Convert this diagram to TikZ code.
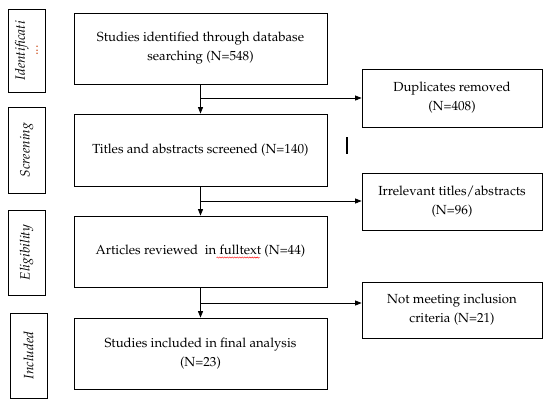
\documentclass[tikz,border=0pt]{standalone}
\usepackage[T1]{fontenc}
\usepackage{mathpazo}
\usetikzlibrary{arrows.meta,decorations.pathmorphing}
\begin{document}
\begin{tikzpicture}[x=1bp,y=-1bp,
  box/.style={draw,line width=0.8pt,inner sep=0pt,align=center,font=\fontsize{13.2}{19}\selectfont},
  mainbox/.style={box,minimum width=253bp,minimum height=71bp},
  sidebox/.style={box,minimum width=180bp},
  stagebox/.style={box,rotate=90,minimum height=37bp,font=\itshape\fontsize{13.6}{13}\selectfont},
  arr/.style={line width=0.8pt,-{Triangle[length=6.5pt,width=5pt]}},
  ln/.style={line width=0.8pt}
]
\useasboundingbox (0,0) rectangle (551,403);
% stage labels
\node[stagebox,minimum width=83bp] (s1) at (26.5,50.5) {Identificati\\{\color[rgb]{0.8,0.3,0.1}\upshape...}};
\node[stagebox,minimum width=86bp] (s2) at (26.5,150) {Screening};
\node[stagebox,minimum width=85bp] (s3) at (26.5,252.5) {Eligibility};
\node[stagebox,minimum width=85bp] (s4) at (28.5,355.5) {Included};
% main boxes
\node[mainbox] (b1) at (200.5,48.5) {Studies identified through database\\searching (N=548)};
\node[mainbox,minimum height=72bp] (b2) at (200.5,150) {Titles and abstracts screened (N=140)};
\node[mainbox] (b3) at (200.5,251.5) {Articles reviewed\ \ in fulltext (N=44)};
\node[mainbox] (b4) at (200.5,353.5) {Studies included in final analysis\\(N=23)};
% side boxes
\node[sidebox,minimum height=58bp] (r1) at (452,98) {Duplicates removed\\(N=408)};
\node[sidebox,minimum height=57bp] (r2) at (452,201.5) {Irrelevant titles/abstracts\\(N=96)};
\node[sidebox,minimum height=56bp] (r3) at (452,310) {Not meeting inclusion\\criteria (N=21)};
% connectors
\draw[arr] (b1) -- (b2);
\draw[arr] (b2) -- (b3);
\draw[arr] (b3) -- (b4);
\coordinate (j1) at (200.5,98);
\coordinate (j2) at (200.5,201);
\coordinate (j3) at (200.5,303);
\draw[arr] (j1) -- (r1.west |- j1);
\draw[arr] (j2) -- (r2.west |- j2);
\draw[arr] (j3) -- (r3.west |- j3);
% stray mark
\draw[line width=2pt] (347,137) -- (347,154);
% spelling squiggle
\draw[red,line width=0.4pt,decorate,decoration={snake,amplitude=0.6pt,segment length=2.5pt}] (216.5,257.5) -- (260,257.5);
\end{tikzpicture}
\end{document}
